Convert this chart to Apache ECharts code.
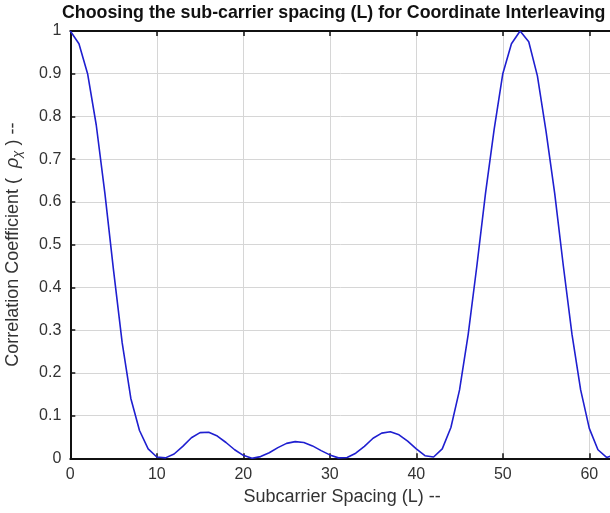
<!DOCTYPE html>
<html>
<head>
<meta charset="utf-8">
<script src="https://cdn.jsdelivr.net/npm/echarts@6/dist/echarts.min.js"></script>
<style>html,body{margin:0;padding:0;background:#fff}#c{width:610px;height:513px}</style>
</head>
<body>
<div id="c"></div>
<script>
var spacingL = [];
for (var i = 0; i <= 63; i++) spacingL.push(i);
var correlation = [
  1.0, 0.97, 0.90, 0.78, 0.62, 0.44, 0.27, 0.14, 0.065, 0.022,
  0.003, 0.001, 0.01, 0.028, 0.048, 0.06, 0.061, 0.052, 0.037, 0.02,
  0.007, 0.0, 0.004, 0.013, 0.025, 0.035, 0.039, 0.037, 0.029, 0.018,
  0.008, 0.001, 0.002, 0.012, 0.028, 0.047, 0.059, 0.062, 0.055, 0.04,
  0.022, 0.006, 0.003, 0.022, 0.072, 0.16, 0.29, 0.45, 0.62, 0.77,
  0.90, 0.97, 1.0, 0.975, 0.895, 0.765, 0.62, 0.45, 0.29, 0.16,
  0.07, 0.02, 0.002, 0.008
];
var xTicks = [0, 10, 20, 30, 40, 50, 60];
var yTickLabels = ['0','0.1','0.2','0.3','0.4','0.5','0.6','0.7','0.8','0.9','1'];

var chart = echarts.init(document.getElementById('c'), null, {renderer: 'canvas'});
var pts = spacingL.map(function (x, i) { return [x, correlation[i]]; });
var font = 'Arial, "Liberation Sans", sans-serif';
chart.setOption({
  backgroundColor: '#ffffff',
  animation: false,
  title: {
    text: 'Choosing the sub-carrier spacing (L) for Coordinate Interleaving',
    left: 62, top: 4, padding: 0,
    textStyle: {fontFamily: font, fontWeight: 'bold', fontSize: 17.8, color: '#111'}
  },
  grid: {left: 70.3, top: 31, width: 553.6, height: 427.3, containLabel: false, outerBoundsMode: 'none'},
  xAxis: [{
    type: 'value', min: 0, max: 64, interval: 10,
    name: 'Subcarrier Spacing (L) --', nameLocation: 'middle', nameGap: 30,
    nameTextStyle: {fontFamily: font, fontSize: 18, color: '#333', padding: [0, 10, 0, 0]},
    axisLine: {show: true, onZero: false, lineStyle: {color: '#111', width: 2}},
    axisTick: {show: true, inside: true, length: 5, lineStyle: {color: '#111', width: 1.5}},
    axisLabel: {fontFamily: font, fontSize: 16, color: '#333', margin: 8,
      formatter: function (v) { return xTicks.indexOf(v) >= 0 ? String(v) : ''; }},
    splitLine: {show: true, lineStyle: {color: '#d6d6d6', width: 1}}
  }, {
    type: 'value', min: 0, max: 64, interval: 10, position: 'top',
    axisLine: {show: true, onZero: false, lineStyle: {color: '#111', width: 2}},
    axisTick: {show: true, inside: true, length: 5, lineStyle: {color: '#111', width: 1.5}},
    axisLabel: {show: false}, splitLine: {show: false}
  }],
  yAxis: {
    type: 'value', min: 0, max: 1, interval: 0.1,
    name: 'Correlation Coefficient (  {r|ρ}{s|χ} ) --', nameLocation: 'middle', nameGap: 46,
    nameTextStyle: {fontFamily: font, fontSize: 18, color: '#333',
      rich: {
        r: {fontFamily: font, fontSize: 18, fontStyle: 'italic', color: '#333'},
        s: {fontFamily: font, fontSize: 13, fontStyle: 'italic', color: '#333', padding: [9, 0, 0, 0]}
      }},
    axisLine: {show: true, lineStyle: {color: '#111', width: 2}},
    axisTick: {show: true, inside: true, length: 5, lineStyle: {color: '#111', width: 1.5}},
    axisLabel: {fontFamily: font, fontSize: 16, color: '#333', margin: 9,
      formatter: function (v) { return yTickLabels[Math.round(v * 10)]; }},
    splitLine: {show: true, lineStyle: {color: '#d6d6d6', width: 1}}
  },
  series: [{
    type: 'line', data: pts, showSymbol: false, smooth: false,
    lineStyle: {color: '#1f1fd0', width: 1.6}
  }]
});
</script>
</body>
</html>
